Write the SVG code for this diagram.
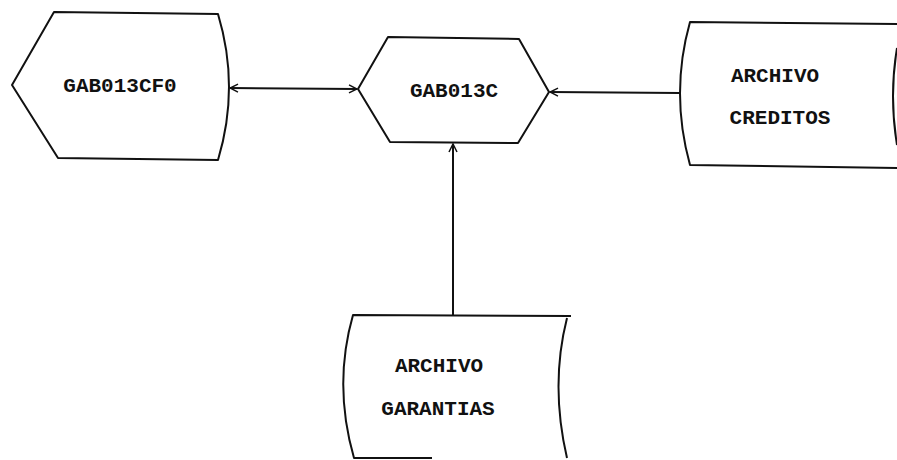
<svg xmlns="http://www.w3.org/2000/svg" width="897" height="460" viewBox="0 0 897 460">
  <style>
    .shape { fill: none; stroke: #111; stroke-width: 2; stroke-linejoin: round; }
    .conn { fill: none; stroke: #111; stroke-width: 2; }
    .lbl { font-family: "Liberation Mono", "DejaVu Sans Mono", monospace; font-weight: bold; font-size: 21px; fill: #111; text-anchor: middle; }
  </style>
  <defs>
    <marker id="arr" markerWidth="10" markerHeight="10" refX="9" refY="5" orient="auto-start-reverse" markerUnits="userSpaceOnUse">
      <path d="M1,1 L9,5 L1,9" fill="none" stroke="#111" stroke-width="1.5"/>
    </marker>
  </defs>
  <rect width="897" height="460" fill="#fff"/>
  <g id="connectors">
    <path class="conn" d="M230,88 L357,89" marker-start="url(#arr)" marker-end="url(#arr)"/>
    <path class="conn" d="M680,93 L550,92" marker-end="url(#arr)"/>
    <path class="conn" d="M453,315 L453,144" marker-end="url(#arr)"/>
  </g>
  <g id="gab013cf0">
    <path class="shape" d="M54,12 L218,14 Q240,87 218,160 L58,158 L12,85 Z"/>
    <text class="lbl" x="120" y="92">GAB013CF0</text>
  </g>
  <g id="gab013c">
    <path class="shape" d="M388,37 L519,39 L549,92 L518,143 L390,142 L358,89 Z"/>
    <text class="lbl" x="454" y="97">GAB013C</text>
  </g>
  <g id="archivo-creditos">
    <path class="shape" d="M897,24 L690,22 Q670,93 690,165 L897,168"/>
    <path class="shape" d="M897,48 Q889,96 897,145"/>
    <text class="lbl" x="775" y="82">ARCHIVO</text>
    <text class="lbl" x="780" y="124">CREDITOS</text>
  </g>
  <g id="archivo-garantias">
    <path class="shape" d="M432,458 L354,458 Q333,385 353,315 L571,316"/>
    <path class="shape" d="M567,318 Q550,385 567,458"/>
    <text class="lbl" x="439" y="372">ARCHIVO</text>
    <text class="lbl" x="438" y="415">GARANTIAS</text>
  </g>
</svg>
